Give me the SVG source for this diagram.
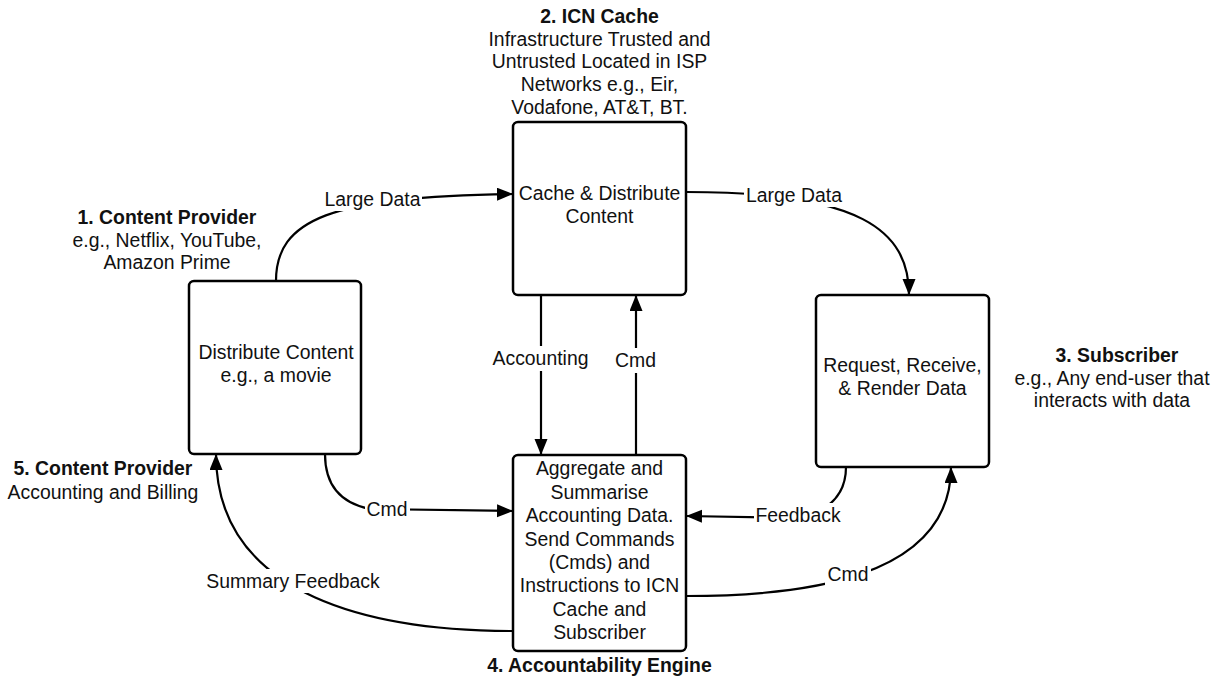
<svg xmlns="http://www.w3.org/2000/svg" width="1224" height="678" viewBox="0 0 1224 678">
  <defs>
    <marker id="arrow" markerUnits="userSpaceOnUse" markerWidth="17" markerHeight="14" refX="16" refY="6.5" orient="auto">
      <path d="M0,0 L16,6.5 L0,13 Z" fill="#000"/>
    </marker>
    <style>
      text { font-family: "Liberation Sans", Arial, sans-serif; font-size: 19.4px; fill: #111; text-anchor: middle; }
      .b { font-weight: bold; }
      .box { fill: #fff; stroke: #000; stroke-width: 2.5; }
      .edge { fill: none; stroke: #000; stroke-width: 2.2; }
      .bg { fill: #fff; }
    </style>
  </defs>
  <rect width="1224" height="678" fill="#fff"/>

  <!-- connectors -->
  <g id="connectors">
    <path class="edge" d="M276,281 C276,220 330,196 513,194" marker-end="url(#arrow)"/>
    <path class="edge" d="M686,192 C860,192 909,230 909,295" marker-end="url(#arrow)"/>
    <path class="edge" d="M541,295 L541,455" marker-end="url(#arrow)"/>
    <path class="edge" d="M636,455 L636,295" marker-end="url(#arrow)"/>
    <path class="edge" d="M325,454 C325,490 345,504 370,509 L513,511" marker-end="url(#arrow)"/>
    <path class="edge" d="M846,467 C846,492 832,510 800,518 L686,516" marker-end="url(#arrow)"/>
    <path class="edge" d="M686,596 C800,596 951,580 951,467" marker-end="url(#arrow)"/>
    <path class="edge" d="M513,631 C380,631 216,600 216,454" marker-end="url(#arrow)"/>

    <!-- connector labels -->
    <rect class="bg" x="323" y="186" width="99" height="25"/>
    <text x="372.5" y="206">Large Data</text>
    <rect class="bg" x="744" y="182" width="100" height="25"/>
    <text x="794" y="202">Large Data</text>
    <rect class="bg" x="491" y="346" width="100" height="25"/>
    <text x="540.5" y="365">Accounting</text>
    <rect class="bg" x="613" y="348" width="46" height="25"/>
    <text x="635.5" y="367">Cmd</text>
    <rect class="bg" x="365" y="497" width="45" height="24"/>
    <text x="387" y="516">Cmd</text>
    <rect class="bg" x="754" y="503" width="88" height="24"/>
    <text x="798" y="522">Feedback</text>
    <rect class="bg" x="825" y="562" width="46" height="24"/>
    <text x="848" y="581">Cmd</text>
    <rect class="bg" x="204" y="569" width="178" height="24"/>
    <text x="293" y="588">Summary Feedback</text>
  </g>

  <!-- 1. Content Provider -->
  <g id="content-provider">
    <rect class="box" x="189" y="281" width="172" height="173" rx="5"/>
    <text x="276" y="359">Distribute Content</text>
    <text x="276" y="382">e.g., a movie</text>
    <text class="b" x="167" y="224">1. Content Provider</text>
    <text x="167" y="247">e.g., Netflix, YouTube,</text>
    <text x="167" y="269">Amazon Prime</text>
  </g>

  <!-- 2. ICN Cache -->
  <g id="icn-cache">
    <rect class="box" x="513" y="122" width="173" height="173" rx="5"/>
    <text x="599.5" y="200">Cache &amp; Distribute</text>
    <text x="599.5" y="223">Content</text>
    <text class="b" x="599.5" y="23">2. ICN Cache</text>
    <text x="599.5" y="46">Infrastructure Trusted and</text>
    <text x="599.5" y="68">Untrusted Located in ISP</text>
    <text x="599.5" y="91">Networks e.g., Eir,</text>
    <text x="599.5" y="114">Vodafone, AT&amp;T, BT.</text>
  </g>

  <!-- 3. Subscriber -->
  <g id="subscriber">
    <rect class="box" x="816" y="295" width="173" height="172" rx="5"/>
    <text x="902.5" y="372">Request, Receive,</text>
    <text x="902.5" y="395">&amp; Render Data</text>
    <text class="b" x="1117" y="362">3. Subscriber</text>
    <text x="1112" y="385">e.g., Any end-user that</text>
    <text x="1112" y="407">interacts with data</text>
  </g>

  <!-- 4. Accountability Engine -->
  <g id="accountability-engine">
    <rect class="box" x="513" y="455" width="173" height="196" rx="5"/>
    <text x="599.5" y="475">Aggregate and</text>
    <text x="599.5" y="499">Summarise</text>
    <text x="599.5" y="522">Accounting Data.</text>
    <text x="599.5" y="546">Send Commands</text>
    <text x="599.5" y="569">(Cmds) and</text>
    <text x="599.5" y="592">Instructions to ICN</text>
    <text x="599.5" y="616">Cache and</text>
    <text x="599.5" y="639">Subscriber</text>
    <text class="b" x="599.5" y="672">4. Accountability Engine</text>
  </g>

  <!-- 5. Content Provider accounting -->
  <g id="provider-billing">
    <text class="b" x="103" y="475">5. Content Provider</text>
    <text x="103" y="499">Accounting and Billing</text>
  </g>
</svg>
